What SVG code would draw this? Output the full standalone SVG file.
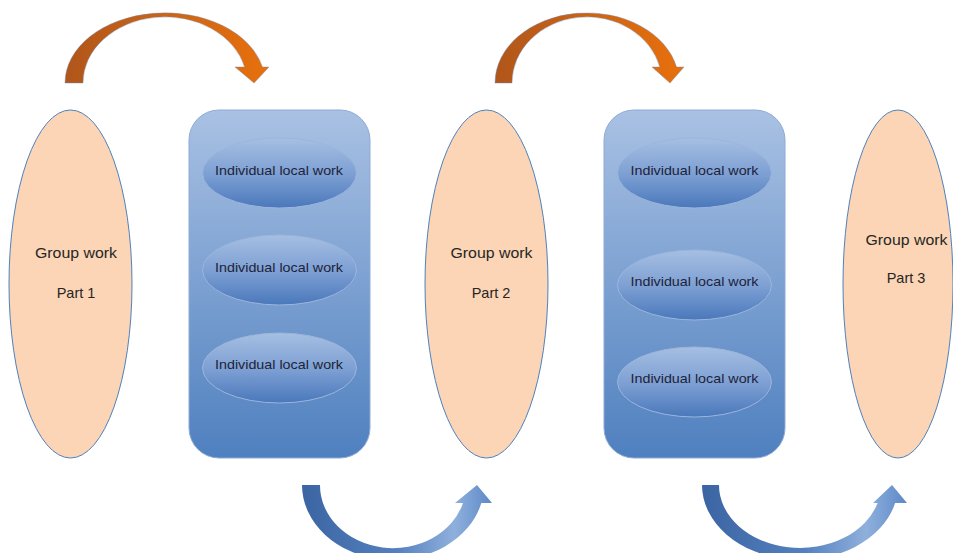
<svg xmlns="http://www.w3.org/2000/svg" width="953" height="553" viewBox="0 0 953 553">
<defs>
<linearGradient id="rectG" x1="0" y1="0" x2="0" y2="1">
<stop offset="0" stop-color="#a9c1e3"/>
<stop offset="1" stop-color="#4f80bf"/>
</linearGradient>
<linearGradient id="innerG" x1="0" y1="0" x2="0" y2="1">
<stop offset="0" stop-color="#a6bfe2"/>
<stop offset="0.55" stop-color="#7a9dd2"/>
<stop offset="1" stop-color="#4a78bb"/>
</linearGradient>
<linearGradient id="orG1" gradientUnits="userSpaceOnUse" x1="65" y1="0" x2="269" y2="0">
<stop offset="0" stop-color="#b0561b"/>
<stop offset="0.5" stop-color="#cc6414"/>
<stop offset="1" stop-color="#e8700c"/>
</linearGradient>
<linearGradient id="orG2" gradientUnits="userSpaceOnUse" x1="495" y1="0" x2="684" y2="0">
<stop offset="0" stop-color="#b0561b"/>
<stop offset="0.5" stop-color="#cc6414"/>
<stop offset="1" stop-color="#e8700c"/>
</linearGradient>
<linearGradient id="blG1" gradientUnits="userSpaceOnUse" x1="302" y1="0" x2="492" y2="0">
<stop offset="0" stop-color="#3b65a2"/>
<stop offset="0.5" stop-color="#5580bf"/>
<stop offset="0.8" stop-color="#8fb0dc"/>
<stop offset="1" stop-color="#5d89c8"/>
</linearGradient>
<linearGradient id="blG2" gradientUnits="userSpaceOnUse" x1="702" y1="0" x2="907" y2="0">
<stop offset="0" stop-color="#3b65a2"/>
<stop offset="0.5" stop-color="#5580bf"/>
<stop offset="0.8" stop-color="#8fb0dc"/>
<stop offset="1" stop-color="#5d89c8"/>
</linearGradient>
</defs>
<style>
.group { fill: #fbd5b5; stroke: #4f81bd; stroke-width: 1; }
.panel { fill: url(#rectG); stroke: #8faad6; stroke-width: 1; }
.inner { fill: url(#innerG); stroke: #9bb5dd; stroke-width: 1; }
.gtext { font-family: "Liberation Sans", Arial, sans-serif; font-size: 14.5px; fill: #262626; text-anchor: middle; }
.itext { font-family: "Liberation Sans", Arial, sans-serif; font-size: 13.5px; fill: #1e2338; text-anchor: middle; }
.arrow-o { stroke: #6f8fc0; stroke-width: 0.7; stroke-opacity: 0.6; }
.arrow-b { stroke: none; }
</style>
<rect width="953" height="553" fill="#ffffff"/>

<g id="connectors">
<path class="arrow-o" fill="url(#orG1)" d="M65,83 A100,70 0 0 1 262.4,67 L269,67 L254,83 L235,67 L244.6,67 A82,66 0 0 0 83,83 Z"/>
<path class="arrow-o" fill="url(#orG2)" d="M495,83 A92,70 0 0 1 676.6,67 L684,67 L670,83 L652,67 L659.8,67 A75,66 0 0 0 512,83 Z"/>
<path class="arrow-b" fill="url(#blG1)" d="M302,485 A91,75 0 0 0 481.3,503 L492,503 L477,485 L455,503 L463,503 A73,63 0 0 1 320,485 Z"/>
<path class="arrow-b" fill="url(#blG2)" d="M702,485 A98,75 0 0 0 895.1,503 L907,503 L892,485 L873,503 L877.6,503 A81,63 0 0 1 719,485 Z"/>
</g>

<g id="group1">
<ellipse class="group" cx="70.5" cy="284" rx="61.5" ry="174"/>
<text class="gtext" x="76" y="258" textLength="82" lengthAdjust="spacingAndGlyphs">Group work</text>
<text class="gtext" x="76" y="298">Part 1</text>
</g>

<g id="panel1">
<rect class="panel" x="189" y="110" width="181" height="348" rx="30" ry="30"/>
<g id="panel1-item1">
<ellipse class="inner" cx="279.5" cy="173" rx="77" ry="35"/>
<text class="itext" x="279" y="175" textLength="128" lengthAdjust="spacingAndGlyphs">Individual local work</text>
</g>
<g id="panel1-item2">
<ellipse class="inner" cx="279.5" cy="270" rx="77" ry="35"/>
<text class="itext" x="279" y="272" textLength="128" lengthAdjust="spacingAndGlyphs">Individual local work</text>
</g>
<g id="panel1-item3">
<ellipse class="inner" cx="279.5" cy="368" rx="77" ry="35"/>
<text class="itext" x="279" y="369" textLength="128" lengthAdjust="spacingAndGlyphs">Individual local work</text>
</g>
</g>

<g id="group2">
<ellipse class="group" cx="486.5" cy="284" rx="61.5" ry="174"/>
<text class="gtext" x="491.5" y="258" textLength="82" lengthAdjust="spacingAndGlyphs">Group work</text>
<text class="gtext" x="491" y="298">Part 2</text>
</g>

<g id="panel2">
<rect class="panel" x="604" y="110" width="181" height="348" rx="30" ry="30"/>
<g id="panel2-item1">
<ellipse class="inner" cx="694.5" cy="173" rx="77" ry="35"/>
<text class="itext" x="694.5" y="175" textLength="128" lengthAdjust="spacingAndGlyphs">Individual local work</text>
</g>
<g id="panel2-item2">
<ellipse class="inner" cx="694.5" cy="285" rx="77" ry="35"/>
<text class="itext" x="694.5" y="286" textLength="128" lengthAdjust="spacingAndGlyphs">Individual local work</text>
</g>
<g id="panel2-item3">
<ellipse class="inner" cx="694.5" cy="382" rx="77" ry="35"/>
<text class="itext" x="694.5" y="383" textLength="128" lengthAdjust="spacingAndGlyphs">Individual local work</text>
</g>
</g>

<g id="group3">
<ellipse class="group" cx="898" cy="284" rx="55" ry="174"/>
<text class="gtext" x="906.5" y="245" textLength="82" lengthAdjust="spacingAndGlyphs">Group work</text>
<text class="gtext" x="906" y="283">Part 3</text>
</g>
</svg>
